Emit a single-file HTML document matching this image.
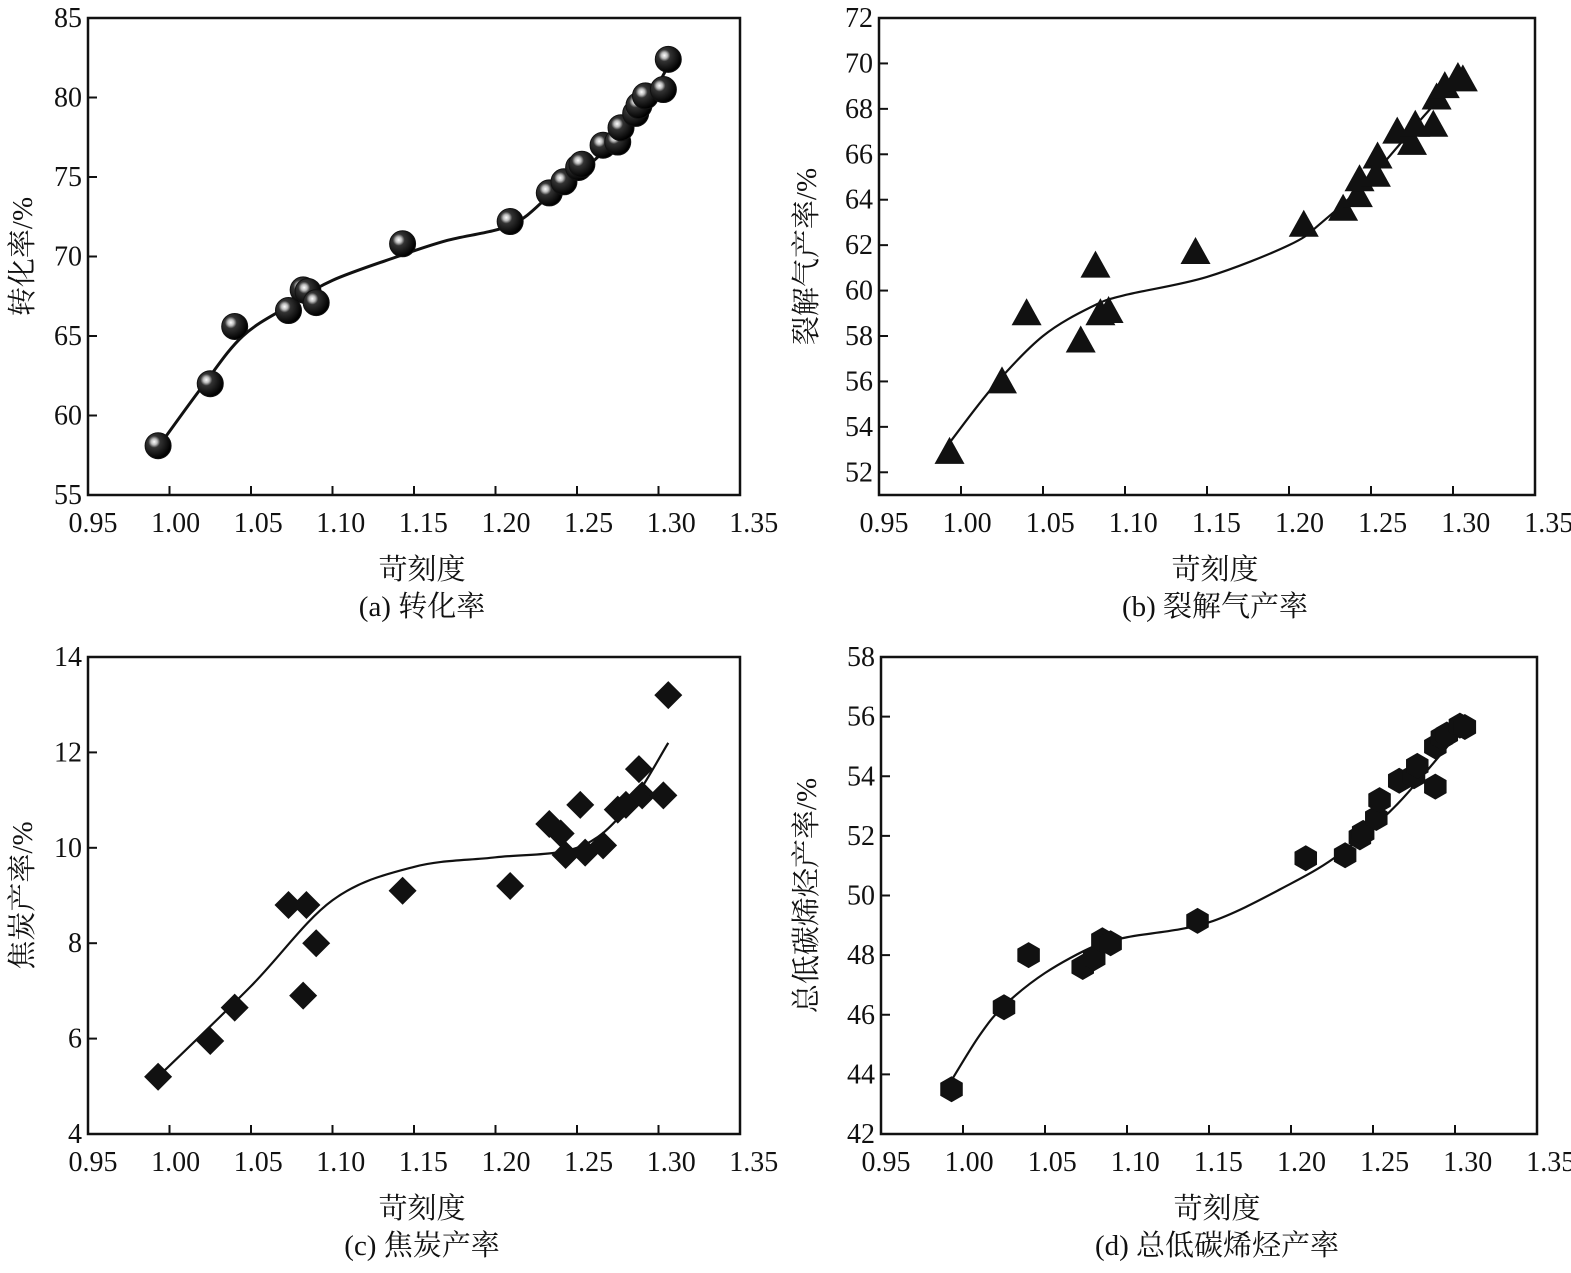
<!DOCTYPE html>
<html><head><meta charset="utf-8"><style>
html,body{margin:0;padding:0;background:#fff}
svg{display:block}
svg text{font-family:"Liberation Serif","Times New Roman","Noto Serif CJK SC","Noto Sans CJK SC",serif;fill:#111}
</style></head><body>
<svg id="s" width="1571" height="1273" viewBox="0 0 1571 1273" xmlns="http://www.w3.org/2000/svg">
<defs>
<radialGradient id="sph" cx="0.35" cy="0.35" r="0.65">
<stop offset="0" stop-color="#fff"/><stop offset="0.18" stop-color="#bbb"/><stop offset="0.35" stop-color="#333"/><stop offset="1" stop-color="#000"/>
</radialGradient>
</defs>
</svg>
<script>
const xTicks=[0.95,1.00,1.05,1.10,1.15,1.20,1.25,1.30,1.35];
const aX=[0.993,1.025,1.040,1.073,1.082,1.085,1.090,1.143,1.209,1.233,1.242,1.251,1.253,1.266,1.275,1.277,1.286,1.288,1.292,1.303,1.306];
const aY=[58.1,62,65.6,66.6,67.9,67.8,67.1,70.8,72.2,74,74.7,75.6,75.8,77,77.2,78.1,79,79.5,80.1,80.5,82.4];
const aFitX=[0.993,1.02,1.045,1.075,1.1,1.14,1.17,1.21,1.235,1.26,1.28,1.295,1.306];
const aFitY=[58,61.8,65,67,68.5,70,71,72,74,76,78,80,82];
const aYTicks=[55,60,65,70,75,80,85];
const bX=[0.993,1.025,1.040,1.073,1.082,1.085,1.090,1.143,1.209,1.233,1.242,1.243,1.253,1.254,1.266,1.275,1.277,1.288,1.290,1.295,1.303,1.306];
const bY=[52.9,56,59,57.8,61.1,59,59.1,61.7,62.9,63.6,64.2,64.9,65.1,65.9,67,66.5,67.3,67.3,68.5,69,69.4,69.3];
const bFitX=[0.993,1.02,1.05,1.08,1.1,1.15,1.2,1.22,1.25,1.28,1.305];
const bFitY=[53.3,55.8,58,59.3,59.8,60.6,62,63,65,67.5,69.5];
const bYTicks=[52,54,56,58,60,62,64,66,68,70,72];
const cX=[0.993,1.025,1.040,1.073,1.082,1.084,1.090,1.143,1.209,1.233,1.240,1.243,1.252,1.255,1.266,1.275,1.280,1.288,1.290,1.303,1.306];
const cY=[5.2,5.95,6.65,8.8,6.9,8.8,8.0,9.1,9.2,10.5,10.3,9.85,10.9,9.9,10.05,10.8,10.9,11.65,11.1,11.1,13.2];
const cFitX=[0.993,1.05,1.1,1.15,1.2,1.25,1.28,1.306];
const cFitY=[5.2,7.1,8.9,9.6,9.8,10.0,10.8,12.2];
const cYTicks=[4,6,8,10,12,14];
const dX=[0.993,1.025,1.040,1.073,1.080,1.085,1.090,1.143,1.209,1.233,1.242,1.244,1.252,1.254,1.266,1.275,1.277,1.288,1.288,1.292,1.295,1.303,1.306];
const dY=[43.5,46.25,48,47.6,47.9,48.5,48.4,49.15,51.25,51.35,51.95,52.1,52.6,53.2,53.85,54,54.35,53.65,55,55.3,55.4,55.7,55.65];
const dFitX=[0.993,1.01,1.025,1.05,1.08,1.1,1.15,1.2,1.23,1.26,1.28,1.306];
const dFitY=[43.8,45.3,46.3,47.4,48.3,48.6,49.1,50.4,51.4,52.8,54,55.7];
const dYTicks=[42,44,46,48,50,52,54,56,58];

const NS='http://www.w3.org/2000/svg';
const FF='"Liberation Serif","Times New Roman","Noto Serif CJK SC","Noto Sans CJK SC",serif';
const svg=document.getElementById('s');
function mk(tag,attrs,parent){const e=document.createElementNS(NS,tag);for(const k in attrs)e.setAttribute(k,attrs[k]);if(tag==='text')e.setAttribute('font-family',FF);(parent||svg).appendChild(e);return e;}

function panel(o){
  const g=mk('g',{});
  
  
  const L=o.L,R=o.R,T=o.T,B=o.B;
  const sx=v=>L+(v-0.95)/0.4*(R-L);
  const sy=v=>B-(v-o.ymin)/(o.ymax-o.ymin)*(B-T);
  const frame=mk('rect',{x:L,y:T,width:R-L,height:B-T,fill:'none',stroke:'#111','stroke-width':2.5},g);
  
  
  xTicks.forEach((t,i)=>{
    const x=sx(t);
    if(t>0.95&&t<1.35){const tk=mk('line',{x1:x,x2:x,y1:B,y2:B-9,stroke:'#111','stroke-width':2},g);
      }
    const tx=mk('text',{x:x+5+i*1.1,y:B+37,'font-size':28,'text-anchor':'middle'},g);
    tx.textContent=t.toFixed(2);
    
    
  });
  o.yt.forEach(t=>{
    const y=sy(t);
    if(t>o.ymin&&t<o.ymax){const tk=mk('line',{x1:L,x2:L+9,y1:y,y2:y,stroke:'#111','stroke-width':2},g);
      }
    const tx=mk('text',{x:L-6,y:y+9,'font-size':28,'text-anchor':'end'},g);
    tx.textContent=String(t);
    
    
  });
  const P=o.fx.map((v,i)=>[sx(v),sy(o.fy[i])]);
  let d='M'+P[0][0]+','+P[0][1];
  for(let i=0;i<P.length-1;i++){
    const p0=P[Math.max(0,i-1)],p1=P[i],p2=P[i+1],p3=P[Math.min(P.length-1,i+2)];
    const c1=[p1[0]+(p2[0]-p0[0])/6,p1[1]+(p2[1]-p0[1])/6];
    const c2=[p2[0]-(p3[0]-p1[0])/6,p2[1]-(p3[1]-p1[1])/6];
    d+=' C'+c1+' '+c2+' '+p2;
  }
  const cv=mk('path',{d:d,fill:'none',stroke:'#111','stroke-width':o.cw||2.2},g);
  
  
  o.px.forEach((v,i)=>{
    const x=sx(v),y=sy(o.py[i]);let m;
    if(o.mk==='sphere'){m=mk('circle',{cx:x,cy:y,r:13,fill:'url(#sph)',stroke:'#111','stroke-width':1},g);}
    else if(o.mk==='tri'){m=mk('polygon',{points:`${x},${y-15} ${x+15},${y+12} ${x-15},${y+12}`,fill:'#111'},g);}
    else if(o.mk==='dia'){m=mk('polygon',{points:`${x},${y-14} ${x+14},${y} ${x},${y+14} ${x-14},${y}`,fill:'#111'},g);}
    else {const r=13;let pts=[];for(let k=0;k<6;k++){const a=Math.PI/3*k+Math.PI/6;pts.push((x+r*Math.cos(a))+','+(y+r*Math.sin(a)));}
      m=mk('polygon',{points:pts.join(' '),fill:'#111'},g);}
    
    
  });
  const cx=(L+R)/2+8;
  const xl=mk('text',{x:cx,y:B+84,'font-size':29,'text-anchor':'middle'},g);
  xl.textContent='苛刻度';
  
  
  const cap=mk('text',{x:cx,y:B+121,'font-size':29,'text-anchor':'middle'},g);
  cap.textContent=o.cap;
  
  
  const yx=o.ylx,ymid=(T+B)/2;
  const yl=mk('text',{x:yx,y:ymid,'font-size':29,'text-anchor':'middle',transform:`rotate(-90 ${yx} ${ymid})`},g);
  yl.textContent=o.yl;
  
  
}
panel({name:'panel-a-conversion',L:88,R:740,T:18,B:495,ymin:55,ymax:85,yt:aYTicks,px:aX,py:aY,fx:aFitX,fy:aFitY,mk:'sphere',cw:3,cap:'(a) 转化率',yl:'转化率/%',ylx:32});
panel({name:'panel-b-cracked-gas',L:879,R:1535,T:18,B:495,ymin:51,ymax:72,yt:bYTicks,px:bX,py:bY,fx:bFitX,fy:bFitY,mk:'tri',cap:'(b) 裂解气产率',yl:'裂解气产率/%',ylx:816});
panel({name:'panel-c-coke',L:88,R:740,T:657,B:1134,ymin:4,ymax:14,yt:cYTicks,px:cX,py:cY,fx:cFitX,fy:cFitY,mk:'dia',cap:'(c) 焦炭产率',yl:'焦炭产率/%',ylx:32});
panel({name:'panel-d-light-olefins',L:881,R:1537,T:657,B:1134,ymin:42,ymax:58,yt:dYTicks,px:dX,py:dY,fx:dFitX,fy:dFitY,mk:'hex',cap:'(d) 总低碳烯烃产率',yl:'总低碳烯烃产率/%',ylx:816});
</script>
</body></html>
